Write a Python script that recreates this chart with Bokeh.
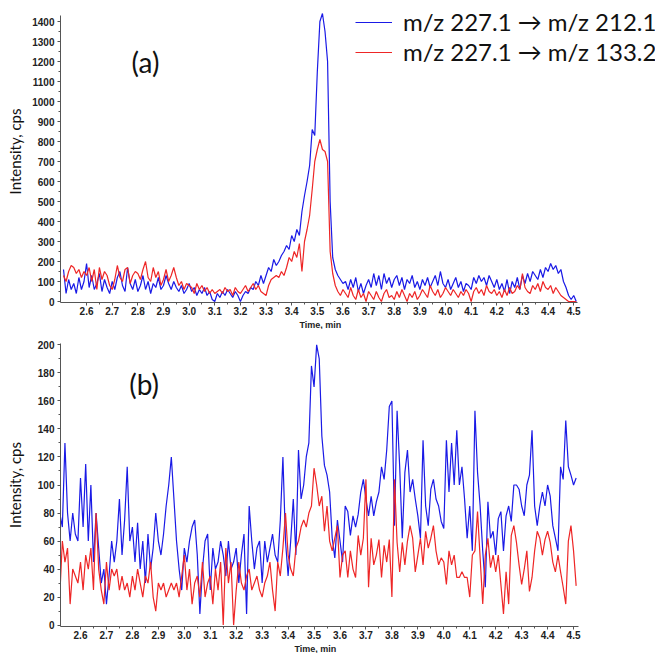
from bokeh.plotting import figure
from bokeh.layouts import column
from bokeh.models import (Range1d, Legend, LegendItem, Label, Title,
                          SingleIntervalTicker, FixedTicker, NumeralTickFormatter)
from bokeh.embed import file_html
from bokeh.resources import INLINE

# Sampling grid (min)
t_start = 2.51
t_step = 0.01

# Time-axis tick labels (min)
x_ticks = [2.6, 2.7, 2.8, 2.9, 3.0, 3.1, 3.2, 3.3, 3.4, 3.5,
           3.6, 3.7, 3.8, 3.9, 4.0, 4.1, 4.2, 4.3, 4.4, 4.5]

# Panel (a): intensity, cps
a_blue = [
    160, 40, 110, 60, 90, 40, 120, 60, 100, 190,
    70, 130, 60, 90, 140, 50, 110, 70, 40, 100,
    60, 120, 150, 80, 50, 170, 90, 60, 110, 50,
    80, 130, 60, 100, 40, 90, 70, 120, 60, 80,
    130, 90, 60, 100, 70, 50, 80, 40, 60, 90,
    50, 70, 30, 60, 40, 70, 30, 50, 10, 0,
    40, 20, 50, 30, 60, 40, 20, 50, 30, 0,
    30, 50, 40, 70, 60, 100, 80, 130, 90, 130,
    170, 150, 210, 180, 200, 230, 250, 280, 260, 330,
    300, 360, 330, 450, 530, 600, 680, 860, 830, 1150,
    1400, 1440, 1350, 1200, 500, 220, 160, 130, 110, 90,
    100, 60, 110, 70, 120, 50, 90, 40, 80, 110,
    70, 140, 80, 130, 60, 140, 90, 120, 70, 110,
    130, 80, 120, 60, 110, 90, 130, 70, 100, 60,
    110, 80, 120, 70, 100, 130, 80, 150, 90, 70,
    110, 60, 90, 120, 70, 100, 50, 90, 80, 60,
    120, 90, 130, 100, 120, 80, 130, 100, 70, 110,
    60, 90, 50, 110, 40, 100, 70, 120, 60, 130,
    90, 140, 100, 150, 130, 110, 160, 120, 170, 150,
    190, 160, 180, 140, 160, 100, 70, 30, 10, 30,
    0,
]
a_red = [
    130, 100, 150, 180, 170, 140, 160, 120, 150, 130,
    170, 100, 160, 60, 170, 110, 150, 130, 80, 60,
    110, 180, 120, 100, 160, 170, 90, 130, 150, 140,
    110, 160, 200, 120, 100, 170, 120, 150, 80, 110,
    160, 100, 130, 170, 120, 80, 100, 60, 90, 80,
    70, 40, 90, 60, 80, 50, 70, 40, 60, 40,
    50, 60, 40, 70, 50, 60, 30, 70, 50, 40,
    60, 80, 50, 70, 90, 60, 80, 50, 40, 30,
    80, 110, 120, 130, 120, 150, 130, 170, 220, 200,
    250, 220, 290, 150, 300, 360, 430, 560, 700, 760,
    810, 760, 750, 700, 250, 140, 80, 50, 30, 60,
    40, 20, 70, 30, 10, 60, 20, 40, 0, 50,
    30, 10, 50, 20, 0, 40, 60, 20, 30, 10,
    50, 20, 60, 30, 0, 40, 20, 50, 10, 30,
    60, 40, 20, 80, 50, 30, 60, 20, 40, 70,
    50, 30, 60, 40, 20, 50, 30, 60, 40, 0,
    50, 70, 40, 60, 30, 80, 50, 40, 60, 30,
    50, 20, 60, 30, 70, 40, 50, 80, 60, 140,
    70, 50, 40, 80, 60, 90, 50, 100, 70, 60,
    80, 40, 70, 50, 30, 20, 10, 0, 0, 0,
    0,
]

# Panel (b): intensity, cps
b_blue = [
    50, 80, 70, 130, 80, 60, 80, 65, 60, 105,
    70, 115, 60, 100, 45, 80, 55, 30, 40, 15,
    35, 60, 45, 60, 90, 50, 75, 113, 60, 70,
    45, 73, 40, 60, 30, 65, 40, 55, 80, 60,
    50, 65, 85, 100, 120, 90, 60, 40, 25, 55,
    45, 60, 70, 75, 50, 8, 40, 60, 65, 25,
    55, 40, 45, 60, 50, 35, 60, 40, 45, 55,
    30, 50, 65, 8, 85, 60, 40, 55, 60, 30,
    60, 45, 55, 65, 50, 45, 75, 120, 60, 35,
    60, 90, 50, 125, 90, 100, 120, 130, 185, 170,
    200, 190, 135, 114, 107, 95, 62, 48, 75, 60,
    45, 85, 81, 64, 78, 70, 79, 95, 104, 90,
    78, 92, 78, 88, 95, 113, 104, 125, 156, 160,
    71, 153, 113, 62, 109, 125, 95, 104, 90, 78,
    62, 132, 85, 71, 97, 104, 90, 85, 74, 69,
    132, 95, 130, 100, 139, 100, 113, 90, 62, 85,
    53, 153, 109, 85, 53, 27, 88, 62, 67, 50,
    76, 81, 53, 78, 85, 74, 100, 100, 97, 85,
    78, 100, 107, 139, 85, 71, 85, 95, 85, 100,
    92, 71, 62, 53, 113, 104, 146, 113, 107, 100,
    105,
]
b_red = [
    40, 20, 60, 45, 55, 15, 40, 35, 30, 45,
    25, 50, 40, 55, 25, 80, 40, 25, 15, 45,
    25, 40, 35, 40, 25, 35, 25, 30, 20, 35,
    25, 40, 30, 20, 35, 30, 45, 20, 10, 30,
    25, 30, 20, 25, 30, 25, 30, 20, 35, 50,
    25, 40, 15, 30, 35, 20, 45, 20, 30, 35,
    15, 40, 25, 45, 0, 55, 30, 45, 0, 25,
    45, 30, 25, 35, 40, 25, 30, 35, 25, 20,
    30, 35, 45, 25, 10, 45, 35, 55, 80, 50,
    40, 35, 55, 60, 70, 75, 70, 80, 85, 112,
    100, 85, 92, 67, 85, 60, 53, 62, 71, 34,
    50, 53, 34, 53, 40, 34, 64, 50, 62, 104,
    27, 62, 43, 50, 61, 34, 57, 45, 61, 20,
    104, 59, 38, 59, 43, 60, 71, 62, 38, 50,
    62, 43, 67, 55, 62, 71, 53, 43, 48, 45,
    29, 53, 43, 50, 34, 34, 38, 34, 34, 20,
    50, 53, 81, 48, 15, 50, 62, 41, 50, 38,
    50, 29, 8, 38, 15, 64, 71, 59, 43, 29,
    40, 53, 24, 34, 53, 67, 62, 50, 61, 67,
    59, 45, 38, 50, 38, 27, 15, 60, 71, 53,
    28,
]

series_labels = ["m/z 227.1 \u2192 m/z 212.1", "m/z 227.1 \u2192 m/z 133.2"]
BLUE = "#1a1ae6"
RED = "#ee2626"


def times(vals):
    return [round(t_start + i * t_step, 2) for i in range(len(vals))]


def style(p, y_interval):
    minor = [round((a + b) / 2, 3) for a, b in zip(x_ticks[:-1], x_ticks[1:])]
    p.xaxis.ticker = FixedTicker(ticks=x_ticks, minor_ticks=minor)
    p.xaxis.formatter = NumeralTickFormatter(format="0.0")
    p.yaxis.ticker = SingleIntervalTicker(interval=y_interval, num_minor_ticks=2)
    for ax in (p.xaxis[0], p.yaxis[0]):
        ax.major_label_text_font = "Liberation Sans"
        ax.major_label_text_font_style = "bold"
        ax.major_label_text_font_size = "10px"
        ax.major_label_text_color = "#222222"
        ax.axis_line_color = "#555555"
        ax.major_tick_line_color = "#555555"
        ax.minor_tick_line_color = "#555555"
        ax.major_tick_out = 3
        ax.major_tick_in = 0
        ax.minor_tick_out = 2
        ax.minor_tick_in = 0
    p.yaxis.major_label_standoff = 3
    p.xaxis.major_label_standoff = 1
    p.yaxis.axis_label = "Intensity, cps"
    p.yaxis.axis_label_text_font = "Lato"
    p.yaxis.axis_label_text_font_style = "normal"
    p.yaxis.axis_label_text_font_size = "15px"
    p.yaxis.axis_label_text_color = "#111111"
    p.yaxis.axis_label_standoff = 5
    p.xgrid.visible = False
    p.ygrid.visible = False
    p.outline_line_color = None


def time_title(offset):
    return Title(text="Time, min", align="left", offset=offset, standoff=0,
                 text_font="Liberation Sans", text_font_style="bold",
                 text_font_size="9px", text_color="#222222")


# ---------- Panel (a): frame runs to the right edge so the legend fits;
# the x axis is bounded to the data window
xa0 = 2.4983
pa = figure(width=655, height=329, output_backend="svg", toolbar_location=None,
            x_range=Range1d(xa0, 4.819), y_range=Range1d(-5, 1505),
            min_border_left=60, min_border_right=0, min_border_top=0,
            min_border_bottom=26)
style(pa, 100)
pa.xaxis.bounds = (xa0, 4.515)
pa.yaxis.bounds = (-5, 1430)
pa.add_layout(time_title(239), "below")
rb = pa.line(times(a_blue), a_blue, line_color=BLUE, line_width=1.2)
rr = pa.line(times(a_red), a_red, line_color=RED, line_width=1.2)
pa.add_layout(Label(x=2.83, y=1196, text="(a)", text_font="Lato",
                    text_font_size="28px", text_align="center",
                    text_baseline="middle", text_color="#111111"))
legend = Legend(items=[LegendItem(label=series_labels[0], renderers=[rb]),
                       LegendItem(label=series_labels[1], renderers=[rr])],
                location=(295, 236), glyph_width=37, glyph_height=26,
                label_height=26, label_standoff=11, spacing=1, padding=0,
                margin=0, border_line_color=None, background_fill_alpha=0,
                label_text_font="Lato", label_text_font_size="24px",
                label_text_color="#111111")
pa.add_layout(legend)

# ---------- Panel (b)
xb0 = 2.5229
pb = figure(width=655, height=324, output_backend="svg", toolbar_location=None,
            x_range=Range1d(xb0, 4.8158), y_range=Range1d(-1, 201),
            min_border_left=60, min_border_right=0, min_border_top=14,
            min_border_bottom=25)
style(pb, 20)
pb.xaxis.bounds = (xb0, 4.52)
pb.yaxis.axis_label_standoff = 11
pb.add_layout(time_title(234), "below")
pb.line(times(b_blue), b_blue, line_color=BLUE, line_width=1.2)
pb.line(times(b_red), b_red, line_color=RED, line_width=1.2)
pb.add_layout(Label(x=2.845, y=172, text="(b)", text_font="Lato",
                    text_font_size="28px", text_align="center",
                    text_baseline="middle", text_color="#111111"))

layout = column(pa, pb, spacing=0)
open("out.html", "w").write(file_html(layout, INLINE))
